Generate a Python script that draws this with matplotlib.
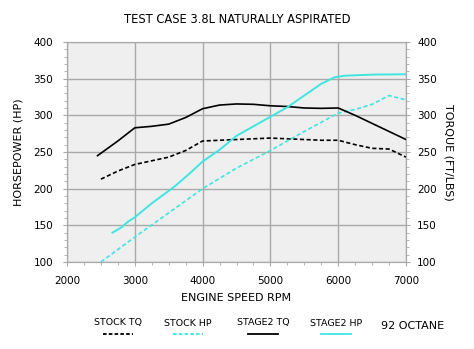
import matplotlib
matplotlib.use("Agg")
from matplotlib import pyplot as plt
from matplotlib.lines import Line2D
from matplotlib.ticker import MultipleLocator

# rpm / values
rpm_s2tq = [2450, 2750, 3000, 3250, 3500, 3750, 4000, 4250, 4500, 4750, 5000, 5250, 5500, 5750, 6000, 6250, 6500, 6750, 7000]
stage2_tq = [245, 265, 283, 285, 288, 297, 309, 314, 315.5, 315, 313, 312, 310, 309.5, 310, 300, 289, 278, 267]

rpm_sttq = [2500, 2750, 3000, 3250, 3500, 3750, 4000, 4250, 4500, 4750, 5000, 5250, 5500, 5750, 6000, 6250, 6500, 6750, 7000]
stock_tq = [213, 224, 233, 238, 243, 252, 265, 266, 267, 268, 269, 268, 267, 266, 266, 260, 255, 254, 243]

rpm_s2hp = [2670, 2800, 2900, 3000, 3250, 3500, 3600, 3800, 4000, 4250, 4500, 4750, 5000, 5250, 5500, 5750, 5950, 6100, 6500, 7000]
stage2_hp = [140, 147, 155, 161, 180, 197, 204, 220, 237, 253, 272, 285, 298, 311, 327, 343, 352, 354, 355.5, 356]

rpm_sthp = [2500, 3000, 3500, 4000, 4500, 5000, 5500, 6000, 6250, 6500, 6750, 7000]
stock_hp = [100, 134, 167, 200, 228, 252, 278, 303, 308, 315, 327, 321]

legend_names = ["STOCK TQ", "STOCK HP", "STAGE2 TQ", "STAGE2 HP"]

cyan = "#3fe6e0"
grid_c = "#a9a9a9"

fig = plt.figure(figsize=(4.74, 3.49), dpi=100)
ax = fig.add_axes([0.1414, 0.2493, 0.7151, 0.6304])
ax.set_facecolor("#efefef")

ax.plot(rpm_sttq, stock_tq, color="black", lw=1.2, ls=(0, (2.5, 1.5)))
ax.plot(rpm_sthp, stock_hp, color=cyan, lw=1.2, ls=(0, (2.5, 1.5)))
ax.plot(rpm_s2tq, stage2_tq, color="black", lw=1.2)
ax.plot(rpm_s2hp, stage2_hp, color=cyan, lw=1.4)

ax.set_xlim(2000, 7000)
ax.set_ylim(100, 400)
ax.xaxis.set_major_locator(MultipleLocator(1000))
ax.xaxis.set_minor_locator(MultipleLocator(250))
ax.yaxis.set_major_locator(MultipleLocator(50))
ax.yaxis.set_minor_locator(MultipleLocator(10))
ax.grid(True, which="major", color=grid_c, lw=1)
ax.set_axisbelow(True)
for s in ax.spines.values():
    s.set_color(grid_c)
ax.tick_params(which="both", colors=grid_c, labelcolor="black", labelsize=7.5, direction="out")
ax.tick_params(which="major", length=3, pad=7)
ax.tick_params(which="minor", length=2)

ax2 = ax.twinx()
ax2.set_ylim(100, 400)
ax2.yaxis.set_major_locator(MultipleLocator(50))
ax2.yaxis.set_minor_locator(MultipleLocator(10))
for s in ax2.spines.values():
    s.set_color(grid_c)
ax2.tick_params(which="both", colors=grid_c, labelcolor="black", labelsize=7.5, direction="out")
ax2.tick_params(which="major", length=3, pad=5)
ax2.tick_params(which="minor", length=2)

ax.set_xlabel("ENGINE SPEED RPM", fontsize=8, labelpad=5)
ax.set_ylabel("HORSEPOWER (HP)", fontsize=8, labelpad=7)
ax2.set_ylabel("TORQUE (FT/LBS)", fontsize=8, rotation=-90, labelpad=12)
fig.text(0.5, 0.945, "TEST CASE 3.8L NATURALLY ASPIRATED", ha="center", va="center", fontsize=8.3)

# legend row under the chart
styles = [("black", (0, (2, 1.2))), (cyan, (0, (2, 1.2))), ("black", "-"), (cyan, "-")]
xs = [118, 188, 263, 336]
for name, (c, ls), x in zip(legend_names, styles, xs):
    fig.text(x / 474, 1 - 323 / 349, name, ha="center", va="center", fontsize=6.8)
    fig.add_artist(Line2D([(x - 15) / 474, (x + 15) / 474], [1 - 334 / 349] * 2,
                          color=c, ls=ls, lw=1.3, transform=fig.transFigure))
fig.text(413 / 474, 1 - 326 / 349, "92 OCTANE", ha="center", va="center", fontsize=8)

fig.savefig("out.png", dpi=100)
